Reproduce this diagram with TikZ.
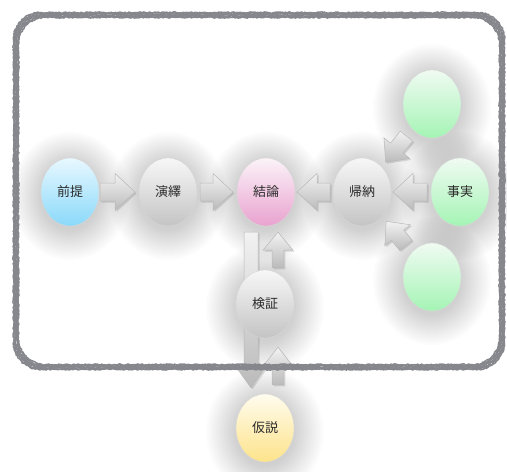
\documentclass[tikz,border=0pt]{standalone}
\usepackage{fontspec}
\newfontfamily\jpfont{Noto Sans CJK JP}
\usetikzlibrary{shapes.geometric,calc,decorations.pathmorphing}

\definecolor{framegray}{HTML}{85878C}
\definecolor{txt}{HTML}{2A2A2A}
\definecolor{cyanTop}{HTML}{E8F8FF}\definecolor{cyanBot}{HTML}{8AD9FA}
\definecolor{grayTop}{HTML}{F7F7F7}\definecolor{grayBot}{HTML}{C4C4C4}
\definecolor{pinkTop}{HTML}{FBF3F8}\definecolor{pinkBot}{HTML}{E9A2CF}
\definecolor{greenTop}{HTML}{F0FBF2}\definecolor{greenBot}{HTML}{A4F4B4}
\definecolor{yellowTop}{HTML}{FFFCEE}\definecolor{yellowBot}{HTML}{FDE38A}

\pgfdeclarelayer{glow}
\pgfdeclarelayer{arrows}
\pgfsetlayers{glow,arrows,main}

\tikzset{
  bubble/.style={ellipse, minimum width=58pt, minimum height=68pt, inner sep=0pt,
    draw=black!16, line width=0.4pt, text=txt,
    font=\jpfont\fontsize{13}{15}\selectfont},
  cyanball/.style={bubble, top color=cyanTop, bottom color=cyanBot},
  grayball/.style={bubble, top color=grayTop, bottom color=grayBot},
  pinkball/.style={bubble, top color=pinkTop, bottom color=pinkBot},
  greenball/.style={bubble, top color=greenTop, bottom color=greenBot},
  yellowball/.style={bubble, top color=yellowTop, bottom color=yellowBot},
  arrowbody/.style={top color=black!5, bottom color=black!27, draw=black!28,
    line width=0.5pt, line join=miter,
    preaction={fill=black, opacity=0.12, transform canvas={shift={(1.5pt,-1.5pt)}}}},
  chalk/.style={draw=framegray, line width=1.5pt, line join=round,
    decorate, decoration={random steps, segment length=1.4pt, amplitude=0.7pt}},
}

% block arrow: shaft half width, head half width, head length, tail point, tip point
\newcommand\blockarrow[5]{%
  \coordinate (ba-s) at #4;
  \coordinate (ba-t) at #5;
  \coordinate (ba-h) at ($(ba-t)!#3!(ba-s)$);
  \path[arrowbody]
    ($(ba-s)!#1!90:(ba-t)$) -- ($(ba-h)!#1!-90:(ba-s)$) -- ($(ba-h)!#2!-90:(ba-s)$)
    -- (ba-t) -- ($(ba-h)!#2!90:(ba-s)$) -- ($(ba-h)!#1!90:(ba-s)$)
    -- ($(ba-s)!#1!-90:(ba-t)$) -- cycle;
}

\begin{document}
\begin{tikzpicture}[x=1pt, y=-1pt]
\useasboundingbox (0,0) rectangle (507,472);

% chalk-like rounded frame
\foreach \d in {-2.4,-1.6,-0.8,0,0.8,1.6,2.4}{
  \path[chalk] (43+\d,15+\d) -- (475-\d,15+\d)
    arc[start angle=-90, end angle=0, radius=27] -- (502-\d,340-\d)
    arc[start angle=0, end angle=90, radius=27] -- (43+\d,367-\d)
    arc[start angle=90, end angle=180, radius=27] -- (16+\d,42+\d)
    arc[start angle=180, end angle=270, radius=27] -- cycle;
}

% bubbles
\node[cyanball]   (premise)    at (70,192)  {前提};
\node[grayball]   (deduction)  at (168,192) {演繹};
\node[pinkball]   (conclusion) at (266,192) {結論};
\node[grayball]   (induction)  at (362,192) {帰納};
\node[greenball]  (fact)       at (460,192) {事実};
\node[greenball]  (factup)     at (432,104) {};
\node[greenball]  (factdown)   at (432,277) {};
\node[grayball]   (verify)     at (265,304) {検証};
\node[yellowball] (hypothesis) at (265,428) {仮説};

% soft glow behind the bubbles, built from stacked translucent ellipses
\begin{pgfonlayer}{glow}
  \foreach \n in {premise,deduction,conclusion,induction,fact,factup,factdown,verify,hypothesis}{
    \foreach \k in {1,...,16}{
      \fill[black, opacity=0.011] ($(\n)+(0,4)$) ellipse ({27+2*\k} and {32+2*\k});
    }
  }
\end{pgfonlayer}

% block arrows
\begin{pgfonlayer}{arrows}
  \blockarrow{9pt}{18.5pt}{20pt}{($(premise)!30pt!(deduction)$)}{($(deduction)!33pt!(premise)$)}
  \blockarrow{9pt}{18.5pt}{20pt}{($(deduction)!32pt!(conclusion)$)}{($(conclusion)!33pt!(deduction)$)}
  \blockarrow{9pt}{18.5pt}{20pt}{($(induction)!32pt!(conclusion)$)}{($(conclusion)!31pt!(induction)$)}
  \blockarrow{9pt}{18.5pt}{20pt}{($(fact)!33pt!(induction)$)}{($(induction)!31pt!(fact)$)}
  \blockarrow{8pt}{16.5pt}{18pt}{($(factup)!41pt!(induction)$)}{($(induction)!38pt!(factup)$)}
  \blockarrow{8pt}{16.5pt}{18pt}{($(factdown)!41pt!(induction)$)}{($(induction)!38pt!(factdown)$)}
  \blockarrow{7pt}{15pt}{21pt}{($(conclusion.south)+(-15,6)$)}{($(hypothesis.north)+(-14,-6)$)}
  \blockarrow{5.8pt}{15pt}{18pt}{($(verify.north)+(13,-2)$)}{($(conclusion.south)+(12,6)$)}
  \blockarrow{5.8pt}{15pt}{19pt}{($(hypothesis.north)+(13,-9)$)}{($(verify.south)+(13,9)$)}
\end{pgfonlayer}
\end{tikzpicture}
\end{document}
